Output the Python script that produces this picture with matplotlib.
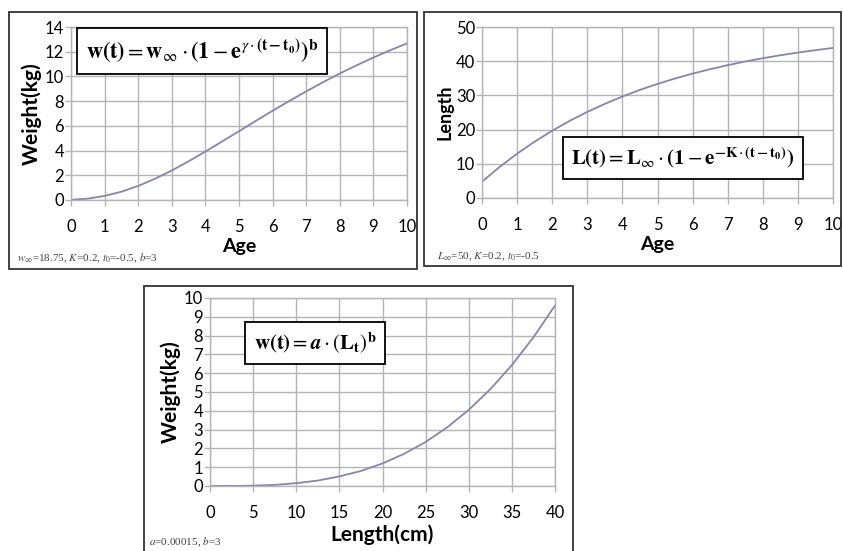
import matplotlib
matplotlib.use('Agg')
import matplotlib.pyplot as plt
from matplotlib.patches import Rectangle

# 값은 그림에서 읽음
age = [0, 0.5, 1, 1.5, 2, 2.5, 3, 3.5, 4, 4.5, 5, 5.5, 6, 6.5, 7, 7.5, 8, 8.5, 9, 9.5, 10]
weight_by_age = [0.02, 0.11, 0.33, 0.67, 1.14, 1.72, 2.39, 3.13, 3.92, 4.74, 5.57, 6.40,
                 7.22, 8.02, 8.79, 9.53, 10.24, 10.90, 11.53, 12.12, 12.67]
length_by_age = [4.76, 9.06, 12.96, 16.48, 19.67, 22.56, 25.17, 27.53, 29.67, 31.61, 33.36,
                 34.94, 36.38, 37.67, 38.84, 39.91, 40.87, 41.74, 42.52, 43.23, 43.88]
length_cm = [0, 2.5, 5, 7.5, 10, 12.5, 15, 17.5, 20, 22.5, 25, 27.5, 30, 32.5, 35, 37.5, 40]
weight_by_length = [0, 0.002, 0.02, 0.06, 0.15, 0.29, 0.51, 0.80, 1.20, 1.71, 2.34, 3.12,
                    4.05, 5.15, 6.43, 7.91, 9.60]

age_ticks = list(range(0, 11))
w_ticks = list(range(0, 15, 2))
l_ticks = list(range(0, 51, 10))
cm_ticks = list(range(0, 41, 5))
w2_ticks = list(range(0, 11))

W, H = 843, 551
LINE = '#8585ad'
GRID = '#b4b4b4'
TICK_FONT = 'Lato'

plt.rcParams['mathtext.fontset'] = 'stix'

fig = plt.figure(figsize=(W / 100, H / 100), dpi=100)


def px_axes(left, top, right, bottom):
    return fig.add_axes([left / W, 1 - bottom / H, (right - left) / W, (bottom - top) / H])


def frame(x0, y0, x1, y1):
    fig.patches.append(Rectangle((x0 / W, 1 - y1 / H), (x1 - x0) / W, (y1 - y0) / H,
                                 transform=fig.transFigure, fill=False,
                                 ec='#333333', lw=1.3))


def style(ax, xt, yt, xlabel, ylabel, xsize=14, ysize=15):
    ax.set_xticks(xt)
    ax.set_yticks(yt)
    ax.set_xlim(xt[0], xt[-1])
    ax.set_ylim(yt[0], yt[-1])
    ax.grid(True, color=GRID, lw=1)
    for s in ax.spines.values():
        s.set_color(GRID)
        s.set_linewidth(1)
    ax.tick_params(colors=GRID, length=4, width=1, labelcolor='black', labelsize=12)
    ax.tick_params(axis='x', pad=10)
    ax.tick_params(axis='y', pad=1)
    for lab in ax.get_xticklabels() + ax.get_yticklabels():
        lab.set_fontfamily(TICK_FONT)
    ax.set_xlabel(xlabel, fontsize=xsize, fontweight='bold', family=TICK_FONT, labelpad=2)
    ax.set_ylabel(ylabel, fontsize=ysize, fontweight='bold', family=TICK_FONT, labelpad=2)
    ax.set_axisbelow(True)


box = dict(boxstyle='square,pad=0.4', fc='white', ec='black', lw=1.3)
note = dict(ha='left', va='center', fontsize=8, family='Liberation Serif', color='#444444')

# 1. 나이-체중
frame(9, 12, 417, 269)
ax1 = px_axes(71, 27, 407, 200)
ax1.plot(age, weight_by_age, color=LINE, lw=1.3)
style(ax1, age_ticks, w_ticks, 'Age', 'Weight(kg)')
fig.text(202 / W, 1 - 51 / H,
         r'$\mathbf{w(t)} = \mathbf{w}_{\infty} \cdot \mathbf{(1} - '
         r'\mathbf{e}^{\gamma \cdot \mathbf{(t-t_0)}}\mathbf{)}^{\mathbf{b}}$',
         ha='center', va='center', fontsize=16, bbox=box)
fig.text(17 / W, 1 - 258 / H, r'$w_\infty$=18.75, $K$=0.2, $t_0$=-0.5, $b$=3', **note)

# 2. 나이-길이
frame(424, 12, 841, 266)
ax2 = px_axes(482, 27, 833, 198)
ax2.plot(age, length_by_age, color=LINE, lw=1.3)
style(ax2, age_ticks, l_ticks, 'Age', 'Length', ysize=13)
fig.text(683 / W, 1 - 158 / H,
         r'$\mathbf{L(t)} = \mathbf{L}_{\infty} \cdot \mathbf{(1} - '
         r'\mathbf{e}^{\mathbf{-K} \cdot \mathbf{(t-t_0)}}\mathbf{)}$',
         ha='center', va='center', fontsize=15, bbox=box)
fig.text(437 / W, 1 - 257 / H, r'$L_\infty$=50, $K$=0.2, $t_0$=-0.5', **note)

# 3. 길이-체중
frame(144, 286, 573, 553)
ax3 = px_axes(210, 298, 555, 486)
ax3.plot(length_cm, weight_by_length, color=LINE, lw=1.3)
style(ax3, cm_ticks, w2_ticks, 'Length(cm)', 'Weight(kg)', xsize=15)
fig.text(315 / W, 1 - 343 / H,
         r'$\mathbf{w(t)} = \mathbfit{a} \cdot (\mathbf{L_t})^{\mathbf{b}}$',
         ha='center', va='center', fontsize=15, bbox=box)
fig.text(149 / W, 1 - 542 / H, r'$a$=0.00015, $b$=3', **note)

fig.savefig('out.png', dpi=100)
